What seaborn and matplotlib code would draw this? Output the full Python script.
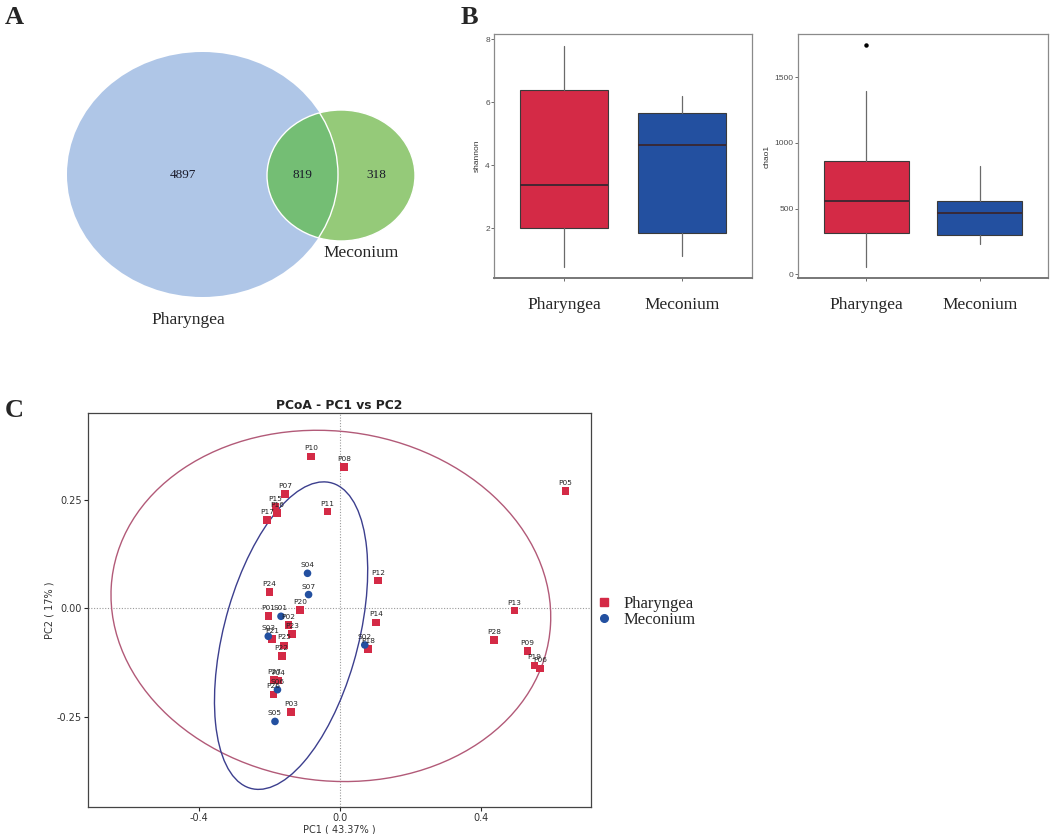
import numpy as np
import pandas as pd
import matplotlib
matplotlib.use("Agg")
import matplotlib.pyplot as plt
from matplotlib.patches import Ellipse
from matplotlib.lines import Line2D
import matplotlib.transforms as mtransforms
import seaborn as sns

# ---------------- data ----------------
venn_labels = ["Pharyngea", "Meconium"]
venn_counts = [4897, 819, 318]   # Pharyngea only, shared, Meconium only

groups = ["Pharyngea", "Meconium"]
shannon_whislo = [0.78, 1.13]
shannon_q1 = [2.02, 1.84]
shannon_med = [3.39, 4.64]
shannon_q3 = [6.39, 5.65]
shannon_whishi = [7.79, 6.18]
shannon_fliers = [[], []]

chao1_whislo = [53, 229]
chao1_q1 = [313, 300]
chao1_med = [559, 470]
chao1_q3 = [863, 559]
chao1_whishi = [1396, 825]
chao1_fliers = [[1746], []]

pha_ids = ["P01", "P02", "P03", "P04", "P05", "P06", "P07", "P08", "P09", "P10",
           "P11", "P12", "P13", "P14", "P15", "P16", "P17", "P18", "P19", "P20",
           "P21", "P22", "P23", "P24", "P25", "P26", "P27", "P28"]
pha_pc1 = [-0.202, -0.146, -0.138, -0.174, 0.638, 0.565, -0.156, 0.011, 0.530, -0.082,
           -0.035, 0.107, 0.494, 0.102, -0.183, -0.179, -0.207, 0.079, 0.550, -0.113,
           -0.192, -0.165, -0.136, -0.200, -0.158, -0.188, -0.186, 0.435]
pha_pc2 = [-0.018, -0.038, -0.239, -0.166, 0.270, -0.138, 0.264, 0.326, -0.098, 0.350,
           0.223, 0.064, -0.005, -0.032, 0.233, 0.220, 0.204, -0.093, -0.131, -0.003,
           -0.070, -0.109, -0.059, 0.038, -0.085, -0.198, -0.164, -0.072]

mec_ids = ["S01", "S02", "S03", "S04", "S05", "S06", "S07"]
mec_pc1 = [-0.167, 0.070, -0.203, -0.092, -0.184, -0.177, -0.089]
mec_pc2 = [-0.018, -0.084, -0.064, 0.081, -0.260, -0.187, 0.032]

pc1_label = "PC1 ( 43.37% )"
pc2_label = "PC2 ( 17% )"

# ---------------- style ----------------
sns.set_theme(style="white")
plt.rcParams["font.family"] = ["DejaVu Sans"]
plt.rcParams["axes.unicode_minus"] = False
SERIF = ["Liberation Serif", "DejaVu Serif"]
SANS = ["Liberation Sans", "DejaVu Sans"]

RED = "#D42A46"
BLUE = "#2350A0"
W, H = 1053, 834
fig = plt.figure(figsize=(W / 100, H / 100), dpi=100)


def px_axes(x0, y0, x1, y1):
    return fig.add_axes([x0 / W, 1 - y1 / H, (x1 - x0) / W, (y1 - y0) / H])


def panel_letter(letter, x, y):
    fig.text(x / W, 1 - y / H, letter, family=SERIF, weight="bold", fontsize=19,
             ha="center", va="center")


# ---------------- Panel A: Venn ----------------
axA = px_axes(0, 0, 440, 330)
axA.set_xlim(0, 440)
axA.set_ylim(330, 0)
axA.axis("off")
blue_c = dict(xy=(202.5, 174.5), width=271, height=245)
green_c = dict(xy=(341, 175.5), width=148, height=131)
bl = Ellipse(**blue_c, facecolor="#AFC6E7", edgecolor="none")
axA.add_patch(bl)
gr = Ellipse(**green_c, facecolor="#95CA79", edgecolor="none")
axA.add_patch(gr)
inter = Ellipse(**green_c, facecolor="#74BE74", edgecolor="none")
axA.add_patch(inter)
inter.set_clip_path(bl)
axA.add_patch(Ellipse(**green_c, facecolor="none", edgecolor="white", lw=1.0))
arc = Ellipse(**blue_c, facecolor="none", edgecolor="white", lw=1.0)
axA.add_patch(arc)
arc.set_clip_path(gr)
for (tx, ty), val in zip([(183, 175), (302, 175), (376, 175)], venn_counts):
    axA.text(tx, ty, str(val), family=SERIF, fontsize=9.5, ha="center", va="center",
             color="#1a1a2a")
axA.text(361, 253, venn_labels[1], family=SERIF, fontsize=12.5, ha="center", va="center")
axA.text(188, 320, venn_labels[0], family=SERIF, fontsize=12.5, ha="center", va="center")
panel_letter("A", 14, 17)
panel_letter("B", 469, 17)
panel_letter("C", 14, 410)

# ---------------- Panel B: boxplots ----------------
def box_panel(ax, whislo, q1, med, q3, whishi, fliers, ylabel, ylim, yticks):
    stats = [dict(whislo=whislo[i], q1=q1[i], med=med[i], q3=q3[i], whishi=whishi[i],
                  fliers=fliers[i], label=groups[i]) for i in range(len(groups))]
    bp = ax.bxp(stats, positions=[1, 2], widths=0.75, patch_artist=True,
                showcaps=False, showfliers=True,
                boxprops=dict(edgecolor="#3a3a3a", linewidth=0.8),
                medianprops=dict(color="#3a2630", linewidth=1.3),
                whiskerprops=dict(color="#6a6a6a", linewidth=0.9),
                flierprops=dict(marker="o", markersize=2.2, markerfacecolor="black",
                                markeredgecolor="black"))
    for patch, c in zip(bp["boxes"], [RED, BLUE]):
        patch.set_facecolor(c)
    ax.set_xlim(0.4, 2.6)
    ax.set_ylim(*ylim)
    ax.set_yticks(yticks)
    ax.set_xticks([1, 2])
    ax.set_xticklabels(["", ""])
    ax.tick_params(axis="both", which="both", length=2, width=0.6, color="#555555",
                   labelsize=6, labelcolor="#4d4d4d", direction="out",
                   bottom=True, left=True, pad=1)
    for lab in ax.get_yticklabels():
        lab.set_family(SANS)
    ax.set_ylabel(ylabel, family=SANS, fontsize=6, color="#333333", labelpad=3)
    ax.set_xlabel("")
    for s in ax.spines.values():
        s.set_color("#8a8a8a")
        s.set_linewidth(0.9)
    ax.spines["bottom"].set_linewidth(1.4)
    ax.spines["bottom"].set_color("#777777")
    tr = mtransforms.blended_transform_factory(ax.transData, ax.transAxes)
    for i, g in enumerate(groups):
        ax.text(i + 1, -0.11, g, transform=tr, family=SERIF, fontsize=12.5,
                ha="center", va="center")

axB1 = px_axes(494, 34, 752, 278)
box_panel(axB1, shannon_whislo, shannon_q1, shannon_med, shannon_q3, shannon_whishi,
          shannon_fliers, "shannon", (0.43, 8.16), [2, 4, 6, 8])
axB2 = px_axes(798, 34, 1048, 278)
box_panel(axB2, chao1_whislo, chao1_q1, chao1_med, chao1_q3, chao1_whishi,
          chao1_fliers, "chao1", (-28, 1830), [0, 500, 1000, 1500])

# ---------------- Panel C: PCoA ----------------
df = pd.DataFrame({
    "id": pha_ids + mec_ids,
    "PC1": pha_pc1 + mec_pc1,
    "PC2": pha_pc2 + mec_pc2,
    "group": ["Pharyngea"] * len(pha_ids) + ["Meconium"] * len(mec_ids),
})

axC = px_axes(88, 413, 591, 807)
axC.axhline(0, color="#9a9a9a", lw=0.8, ls=(0, (1, 1.5)), zorder=1)
axC.axvline(0, color="#9a9a9a", lw=0.8, ls=(0, (1, 1.5)), zorder=1)
sns.scatterplot(data=df, x="PC1", y="PC2", hue="group", style="group",
                markers={"Pharyngea": "s", "Meconium": "o"},
                palette={"Pharyngea": RED, "Meconium": BLUE},
                s=30, linewidth=0, legend=False, ax=axC, zorder=3)
for _, r in df.iterrows():
    axC.annotate(r["id"], (r["PC1"], r["PC2"]), xytext=(0, 3.6), textcoords="offset points",
                 ha="center", va="bottom", fontsize=5.3, color="#222222", zorder=4)


def cov_trob(X, nu=5, maxit=200, tol=1e-6):
    """Multivariate-t robust location/scatter (as MASS::cov.trob)."""
    X = np.asarray(X, float)
    n, p = X.shape
    loc = X.mean(axis=0)
    w = np.ones(n)
    for _ in range(maxit):
        w0 = w
        Xc = X - loc
        _, d, vt = np.linalg.svd(np.sqrt(w / w.sum())[:, None] * Xc, full_matrices=False)
        wX = Xc @ vt.T @ np.diag(1 / d)
        Q = (wX ** 2).sum(axis=1)
        w = (nu + p) / (nu + Q)
        loc = (w[:, None] * X).sum(axis=0) / w.sum()
        if np.all(np.abs(w - w0) < tol):
            break
    Xc = X - loc
    cov = (np.sqrt(w)[:, None] * Xc).T @ (np.sqrt(w)[:, None] * Xc) / n
    return loc, cov


def f_quantile_95(d1, d2):
    # quantile of F(d1=2, d2) at 0.95 : closed form for d1 = 2
    return d2 / 2 * (0.05 ** (-2 / d2) - 1)


def t_ellipse(ax, x, y, color):
    X = np.column_stack([x, y])
    loc, cov = cov_trob(X)
    n = len(x)
    radius = np.sqrt(2 * f_quantile_95(2, n - 1))
    vals, vecs = np.linalg.eigh(cov)
    order = vals.argsort()[::-1]
    vals, vecs = vals[order], vecs[:, order]
    angle = np.degrees(np.arctan2(vecs[1, 0], vecs[0, 0]))
    w, h = 2 * radius * np.sqrt(vals)
    ax.add_patch(Ellipse(tuple(loc), w, h, angle=angle, fill=False,
                         edgecolor=color, lw=1.0, zorder=2))


t_ellipse(axC, pha_pc1, pha_pc2, "#B25A78")
t_ellipse(axC, mec_pc1, mec_pc2, "#3C3F8E")

axC.set_xlim(-0.713, 0.710)
axC.set_ylim(-0.457, 0.450)
axC.set_xticks([-0.4, 0.0, 0.4])
axC.set_xticklabels(["-0.4", "0.0", "0.4"])
axC.set_yticks([-0.25, 0.0, 0.25])
axC.set_yticklabels(["-0.25", "0.00", "0.25"])
axC.tick_params(axis="both", length=3, width=0.8, labelsize=7, labelcolor="#333333",
                direction="out", bottom=True, left=True, pad=1.5)
axC.set_xlabel(pc1_label, fontsize=7, color="#333333", labelpad=1)
axC.set_ylabel(pc2_label, fontsize=7, color="#333333", labelpad=1.5)
axC.set_title("PCoA - PC1 vs PC2", fontsize=8.8, weight="bold", pad=3, color="#222222")
for s in axC.spines.values():
    s.set_color("#444444")
    s.set_linewidth(0.9)

handles = [Line2D([], [], marker="s", ls="none", color=RED, markersize=5.5),
           Line2D([], [], marker="o", ls="none", color=BLUE, markersize=5.5)]
axC.legend(handles, groups, loc="center left", bbox_to_anchor=(597 / W, 1 - 611.5 / H),
           bbox_transform=fig.transFigure, frameon=False,
           prop=dict(family=SERIF, size=12), handlelength=0.8, handletextpad=0.8,
           labelspacing=0.0, borderpad=0, borderaxespad=0)

fig.savefig("out.png", dpi=100)
